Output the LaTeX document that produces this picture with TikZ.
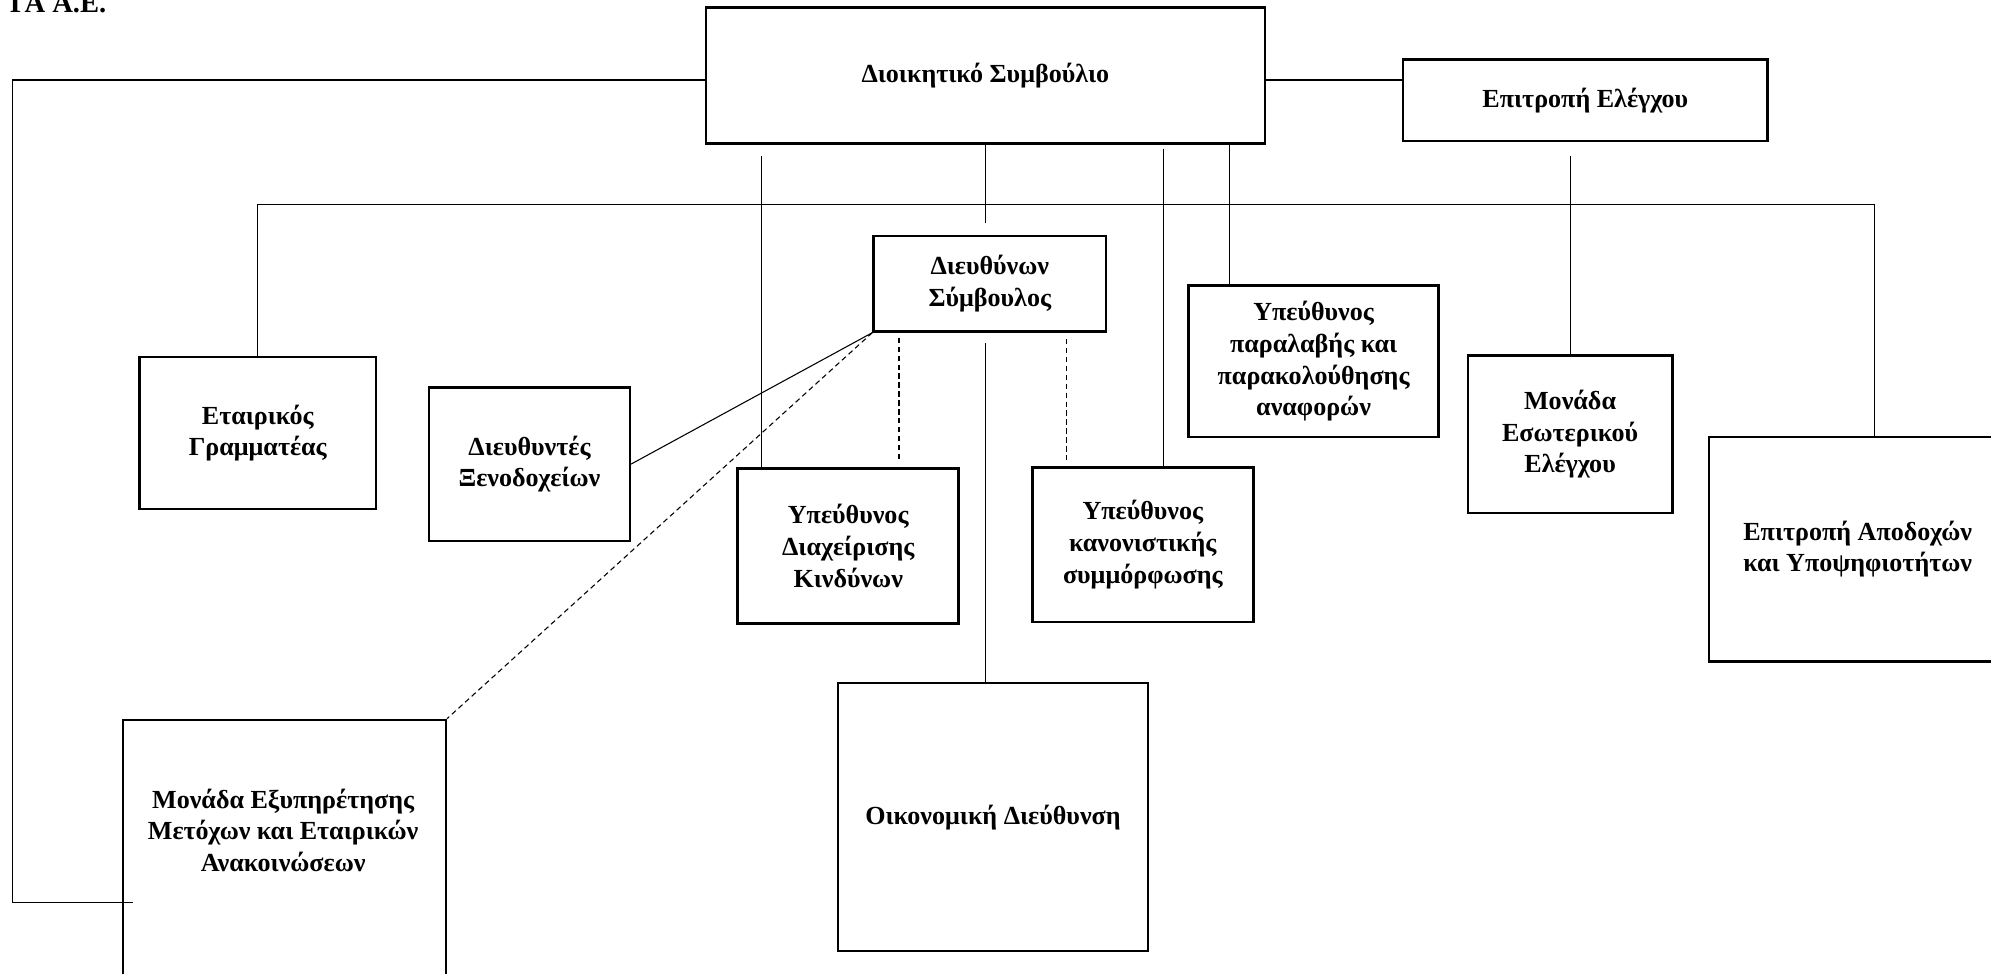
\documentclass[tikz,border=0pt]{standalone}
\usepackage{fontspec}
\setmainfont{Liberation Serif}

\tikzstyle{unit} = [rectangle, anchor=north west, inner sep=0pt, text centered, align=center, draw=black, line width=1.4pt, font=\fontsize{14.6}{17.8}\selectfont\bfseries]
\tikzstyle{label} = [align=center, inner sep=0pt, font=\fontsize{14.6}{17.8}\selectfont\bfseries]
\tikzstyle{link} = [line width=0.6pt, black]
\tikzstyle{dlink} = [link, dash pattern=on 3pt off 2pt]

\begin{document}
\begin{tikzpicture}[x=0.025cm, y=-0.025cm]
	\useasboundingbox (0,0) rectangle (1568,767);
	% Place nodes
	\node [font=\fontsize{16}{19}\selectfont\bfseries, anchor=base east, inner sep=0pt] (Title) at (84,10) {ΓΑ Α.Ε.};
	\node [unit, minimum width=11cm, minimum height=2.675cm] (Board) at (555,5) {Διοικητικό Συμβούλιο};
	\node [unit, minimum width=7.175cm, minimum height=1.6cm] (Audit) at (1104,46) {Επιτροπή Ελέγχου};
	\node [unit, minimum width=4.575cm, minimum height=1.875cm] (CEO) at (687,185) {Διευθύνων\\Σύμβουλος};
	\node [unit, minimum width=4.65cm, minimum height=3cm] (Secretary) at (109,280) {Εταιρικός\\Γραμματέας};
	\node [unit, minimum width=3.95cm, minimum height=3.025cm] (Hotels) at (337,304) {Διευθυντές\\Ξενοδοχείων};
	\node [unit, minimum width=4.35cm, minimum height=3.05cm] (Risk) at (580,368) {Υπεύθυνος\\Διαχείρισης\\Κινδύνων};
	\node [unit, minimum width=4.35cm, minimum height=3.05cm] (Compliance) at (812,367) {Υπεύθυνος\\κανονιστικής\\συμμόρφωσης};
	\node [unit, minimum width=4.925cm, minimum height=2.975cm] (Reports) at (935,224) {Υπεύθυνος\\παραλαβής και\\παρακολούθησης\\αναφορών};
	\node [unit, minimum width=4.025cm, minimum height=3.1cm] (InternalAudit) at (1155,279) {Μονάδα\\Εσωτερικού\\Ελέγχου};
	\node [unit, minimum width=5.85cm, minimum height=4.425cm] (Remuneration) at (1345,343) {Επιτροπή Αποδοχών\\και Υποψηφιοτήτων};
	\node [unit, minimum width=6.35cm, minimum height=5.1cm] (Shareholders) at (96,566) {};
	\node [label] (ShareholdersText) at (223,654) {Μονάδα Εξυπηρέτησης\\Μετόχων και Εταιρικών\\Ανακοινώσεων};
	\node [unit, minimum width=6.1cm, minimum height=5.275cm] (Finance) at (659,537) {Οικονομική Διεύθυνση};
	\coordinate (LoopTop) at (10,63);
	\coordinate (LoopEnd) at (105,711);
	\coordinate (BusRight) at (1476,161);
	% Draw edges
	\draw [link] (LoopTop -| Board.west) -- (LoopTop) |- (LoopEnd);
	\draw [link] (LoopTop -| Board.east) -- (LoopTop -| Audit.west);
	\draw [link] (Board.south) -- ([yshift=0.225cm]CEO.north -| Board.south);
	\draw [link] ([yshift=-0.2cm]CEO.south -| Board.south) -- (Finance.north -| Board.south);
	\draw [link] (Secretary.north) |- (BusRight) -- (BusRight |- Remuneration.north);
	\draw [link] ([yshift=-0.275cm]Audit.south -| InternalAudit.north) -- (InternalAudit.north);
	\draw [link] ([xshift=0.5cm,yshift=-0.225cm]Board.south -| Risk.north west) -- ([xshift=0.5cm]Risk.north west);
	\draw [link] ([xshift=2.6cm,yshift=-0.075cm]Board.south -| Compliance.north west) -- ([xshift=2.6cm]Compliance.north west);
	\draw [link] ([xshift=0.825cm]Board.south -| Reports.north west) -- ([xshift=0.825cm]Reports.north west);
	\draw [link] (CEO.south west) -- (Hotels.east);
	\draw [dlink] ([shift={(0.525cm,-0.1cm)}]CEO.south west) -- ([shift={(0.525cm,0.1cm)}]Risk.north -| CEO.south west);
	\draw [dlink] ([shift={(-0.8cm,-0.125cm)}]CEO.south east) -- ([shift={(-0.8cm,0.05cm)}]Compliance.north -| CEO.south east);
	\draw [dlink] (CEO.south west) -- (Shareholders.north east);
\end{tikzpicture}
\end{document}
